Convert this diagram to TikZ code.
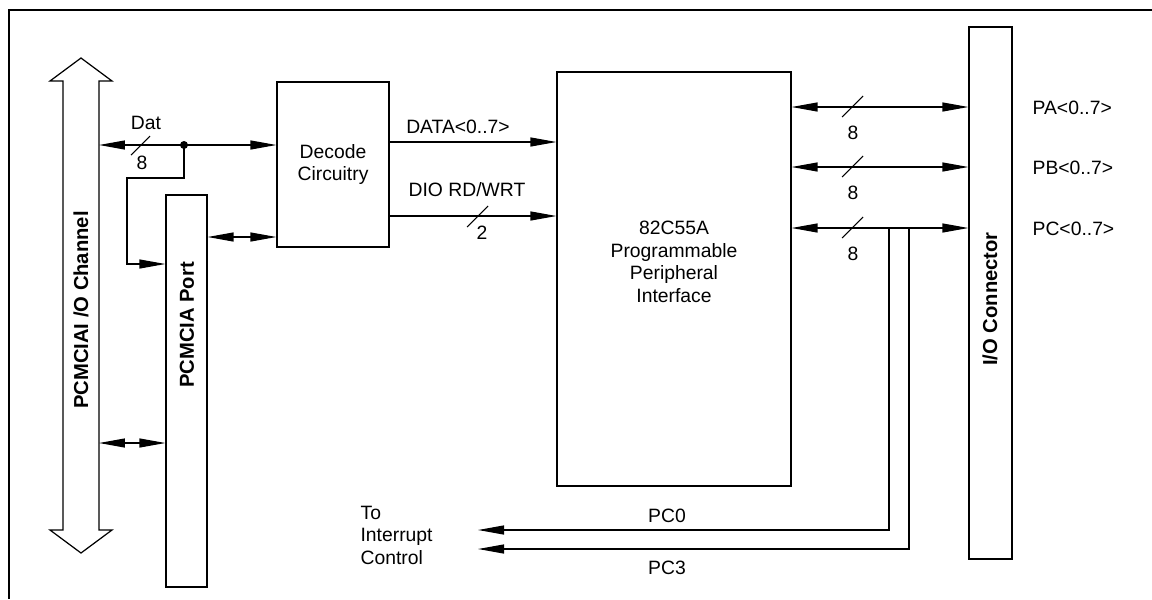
\documentclass[tikz,border=0pt]{standalone}
\usepackage{fontspec}
\setmainfont{Liberation Sans}
\usetikzlibrary{arrows.meta}

\tikzset{
    block/.style={draw, line width=0.7pt, inner sep=0pt, align=center},
    lbl/.style={inner sep=0pt, font=\fontsize{11}{12.8}\selectfont, align=center},
    vlbl/.style={inner sep=0pt, font=\fontsize{11.5}{13}\selectfont\bfseries, rotate=90},
    wire/.style={line width=0.7pt},
    slash/.style={line width=0.6pt},
}

\begin{document}
\begin{tikzpicture}[x=0.02cm, y=-0.02cm, line width=0.7pt,
    >={Triangle[length=0.52cm, width=0.18cm]}]
    \useasboundingbox (0,0) rectangle (1152,599);

    % Frame
    \draw[line width=1.1pt] (1152,10) -- (9,10) -- (9,599);

    % PCMCIA I/O channel (bus arrow)
    \draw (63,81) -- (63,530) -- (50,530) -- (81,553) -- (112,530) -- (99,530)
        -- (99,81) -- (112,81) -- (81,58) -- (50,81) -- cycle;
    \coordinate (chR) at (99,300);
    \node[vlbl] (chan) at (81,310) {PCMCIAI /O Channel};

    % Blocks
    \node[block, minimum width=0.82cm, minimum height=7.84cm] (port) at (186.5,391) {};
    \node[vlbl] (portlbl) at (187,325) {PCMCIA Port};
    \node[block, lbl, minimum width=2.24cm, minimum height=3.3cm] (dec) at (333,164.5)
        {Decode\\Circuitry};
    \node[block, minimum width=4.68cm, minimum height=8.28cm] (ppi) at (674,279) {};
    \node[lbl] (ppilbl) at (674,262) {82C55A\\Programmable\\Peripheral\\Interface};
    \node[block, minimum width=0.86cm, minimum height=10.64cm] (io) at (990.5,293) {};
    \node[vlbl] (iolbl) at (990,299) {I/O Connector};

    % Data bus from channel
    \coordinate (dat) at (184,145);
    \draw[<->] (chR |- dat) -- (dec.west |- dat);
    \fill (dat) circle (4);
    \draw[->] (dat) |- (127,178) |- (port.west |- 0,264);
    \draw[slash] (131,155) -- (150,136);
    \node[lbl] (datlbl) at (146,123) {Dat};
    \node[lbl] (datn) at (142,163) {8};

    \draw[<->] (chR |- 0,443) -- (port.west |- 0,443);
    \draw[<->] (port.east |- 0,237) -- (dec.west |- 0,237);

    % Decode to 82C55A
    \draw[->] (dec.east |- 0,142) -- (ppi.west |- 0,142);
    \node[lbl] (datalbl) at (458,127) {DATA<0..7>};
    \draw[->] (dec.east |- 0,216) -- (ppi.west |- 0,216);
    \draw[slash] (467,227) -- (488,206);
    \node[lbl] (diolbl) at (467,190) {DIO RD/WRT};
    \node[lbl] (dion) at (482,233) {2};

    % Ports A, B, C
    \foreach \y/\p in {107/A, 167/B, 228/C} {
        \draw[<->] (ppi.east |- 0,\y) -- (io.west |- 0,\y);
        \draw[slash] (842,\y+10) -- (863,\y-11);
        \node[lbl] at (853,\y+26) {8};
        \node[lbl, anchor=west] at (1032,\y+1) {P\p<0..7>};
    }

    % Interrupt lines
    \coordinate (tap0) at (889,228);
    \coordinate (tap3) at (909,228);
    \coordinate (irq) at (478,530);
    \draw[->] (tap0) |- (irq);
    \draw[->] (tap3) |- (irq |- 0,549);
    \node[lbl] (pc0) at (667,516) {PC0};
    \node[lbl] (pc3) at (667,568) {PC3};
    \node[lbl, align=left, anchor=west] (irqlbl) at (360,535) {To\\Interrupt\\Control};
\end{tikzpicture}
\end{document}
